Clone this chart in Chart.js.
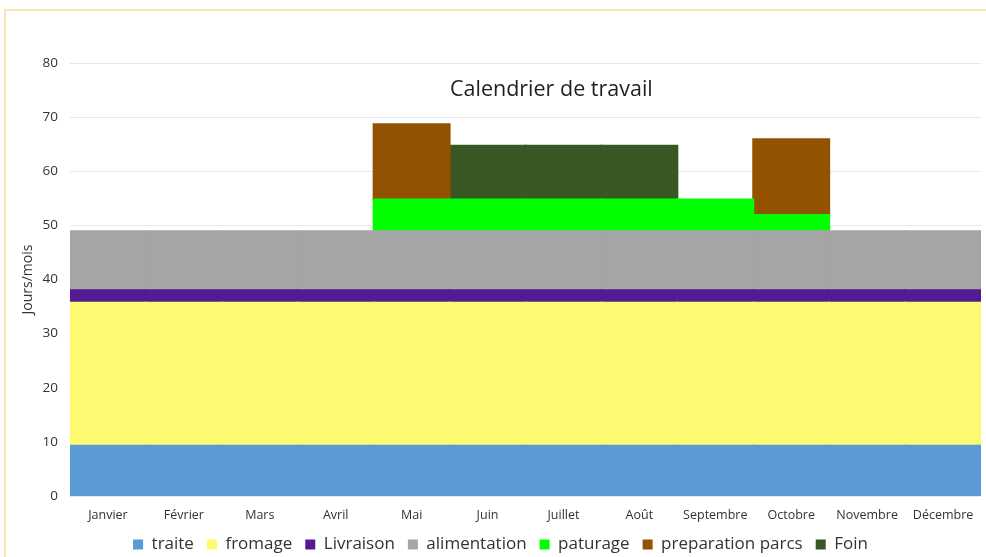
<!DOCTYPE html>
<html>
<head>
<meta charset="utf-8">
<script src="https://cdn.jsdelivr.net/npm/chart.js@4"></script>
<style>
  html, body { margin: 0; padding: 0; background: #fff; }
  #wrap { position: relative; width: 986px; height: 557px; overflow: hidden; }
  #frame {
    position: absolute; left: 4px; top: 9px; width: 1000px; height: 600px;
    border-left: 2px solid #f6e7b4; border-top: 2px solid #f6e7b4;
  }
  #title {
    position: absolute; left: 450px; top: 73px;
    font-family: "Open Sans", sans-serif; font-size: 21.5px; color: #1f1f1f;
    white-space: nowrap;
  }
  canvas { position: absolute; left: 0; top: 0; }
</style>
</head>
<body>
<div id="wrap">
  <div id="frame"></div>
  <canvas id="calendarChart" width="986" height="557"></canvas>
  <div id="title">Calendrier de travail</div>
</div>
<script>
// months on the x axis
const months = ['Janvier', 'Février', 'Mars', 'Avril', 'Mai', 'Juin', 'Juillet', 'Août',
  'Septembre', 'Octobre', 'Novembre', 'Décembre'];

// days per month for each task
const traite = [9.3, 9.3, 9.3, 9.3, 9.3, 9.3, 9.3, 9.3, 9.3, 9.3, 9.3, 9.3];
const fromage = [26.4, 26.4, 26.4, 26.4, 26.4, 26.4, 26.4, 26.4, 26.4, 26.4, 26.4, 26.4];
const livraison = [2.3, 2.3, 2.3, 2.3, 2.3, 2.3, 2.3, 2.3, 2.3, 2.3, 2.3, 2.3];
const alimentation = [10.9, 10.9, 10.9, 10.9, 10.9, 10.9, 10.9, 10.9, 10.9, 10.9, 10.9, 10.9];
const paturage = [null, null, null, null, 5.9, 5.9, 5.9, 5.9, 5.9, 3, null, null];
const preparationParcs = [null, null, null, null, 13.9, null, null, null, null, 14, null, null];
const foin = [null, null, null, null, null, 9.9, 9.9, 9.9, null, null, null, null];

const yTicks = [0, 10, 20, 30, 40, 50, 60, 70, 80];

function series(label, data, color) {
  return {
    label: label,
    data: data,
    backgroundColor: color,
    borderColor: color,
    borderWidth: 0,
    inflateAmount: 1,
    barPercentage: 1,
    categoryPercentage: 1
  };
}

// keep the legend box short so the plot keeps its height
const legendFit = {
  id: 'legendFit',
  beforeLayout: function (chart) {
    const lg = chart.legend;
    if (lg && !lg.__patched) {
      const fit = lg.fit;
      lg.fit = function () {
        fit.call(this);
        this.height = 34;
      };
      lg.__patched = true;
    }
  }
};

document.addEventListener('DOMContentLoaded', function () {
  const canvas = document.getElementById('calendarChart');
  new Chart(canvas, {
    type: 'bar',
    data: {
      labels: months,
      datasets: [
        series('traite', traite, '#5b9bd5'),
        series('fromage', fromage, '#fdfa72'),
        series('Livraison', livraison, '#521b92'),
        series('alimentation', alimentation, '#a5a5a5'),
        series('paturage', paturage, '#00ff00'),
        series('preparation parcs', preparationParcs, '#935200'),
        series('Foin', foin, '#385723')
      ]
    },
    plugins: [legendFit],
    options: {
      responsive: false,
      animation: false,
      layout: { padding: { left: 20, right: 5, top: 63, bottom: 0 } },
      scales: {
        x: {
          stacked: true,
          grid: { display: false, drawTicks: false },
          border: { display: false },
          afterFit: function (scale) { scale.height = 27; },
          ticks: {
            color: '#333',
            font: { family: 'Open Sans', size: 12.5 },
            maxRotation: 0,
            padding: 12
          }
        },
        y: {
          stacked: true,
          min: 0,
          max: 80,
          afterBuildTicks: function (scale) {
            scale.ticks = yTicks.map(function (v) { return { value: v }; });
          },
          afterFit: function (scale) { scale.width = 50; },
          grid: { color: '#e6e6e6', drawTicks: false },
          border: { display: false },
          ticks: {
            color: '#333',
            font: { family: 'Open Sans', size: 13.5 },
            padding: 12
          },
          title: {
            display: true,
            text: 'Jours/mois',
            color: '#333',
            font: { family: 'Open Sans', size: 14 },
            padding: 0
          }
        }
      },
      plugins: {
        legend: {
          position: 'bottom',
          labels: {
            color: '#333',
            font: { family: 'Open Sans', size: 17 },
            boxWidth: 10,
            boxHeight: 10,
            padding: 13
          }
        },
        tooltip: { enabled: false }
      }
    }
  });
});
</script>
</body>
</html>
